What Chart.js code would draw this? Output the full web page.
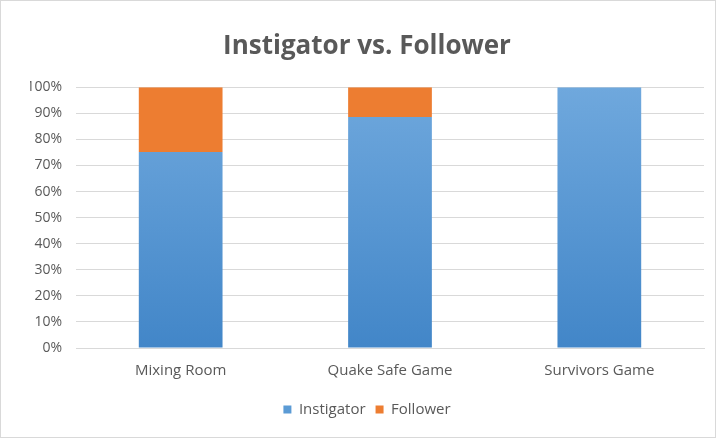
<!DOCTYPE html>
<html>
<head>
<meta charset="utf-8">
<script src="https://cdn.jsdelivr.net/npm/chart.js@4"></script>
<style>
  html, body { margin: 0; padding: 0; background: #fff; }
  #wrap { width: 714px; height: 436px; border: 1px solid #d9d9d9; }
</style>
</head>
<body>
<div id="wrap"><canvas id="myChart" width="714" height="436"></canvas></div>
<script>
const categorias = ['Mixing Room', 'Quake Safe Game', 'Survivors Game'];
const instigador = [75.2, 88.6, 100];
const seguidor = [24.8, 11.4, 0];
const ticksY = [0, 10, 20, 30, 40, 50, 60, 70, 80, 90, 100];

const gris = '#595959';

// degradado vertical para las barras azules
function degradado(ctx, arriba, abajo) {
    const chart = ctx.chart;
    const area = chart.chartArea;
    if (!area) return arriba;
    const g = chart.ctx.createLinearGradient(0, area.top, 0, area.bottom);
    g.addColorStop(0, arriba);
    g.addColorStop(1, abajo);
    return g;
}

// el naranja tiene su propio degradado dentro de cada barra
function degradadoNaranja(ctx) {
    const chart = ctx.chart;
    const area = chart.chartArea;
    if (!area || ctx.type !== 'data') return '#ed7d31';
    const meta = chart.getDatasetMeta(ctx.datasetIndex);
    const bar = meta.data[ctx.dataIndex];
    if (!bar) return '#ed7d31';
    const top = bar.y, bottom = bar.base;
    if (!isFinite(top) || !isFinite(bottom) || top === bottom) return '#ed7d31';
    const g = chart.ctx.createLinearGradient(0, top, 0, bottom);
    g.addColorStop(0, '#f08a52');
    g.addColorStop(0.5, '#f47d24');
    g.addColorStop(1, '#e46c1a');
    return g;
}

const ctx = document.getElementById('myChart').getContext('2d');
window.myChart = new Chart(ctx, {
    type: 'bar',
    data: {
        labels: categorias,
        datasets: [{
            label: 'Instigator',
            data: instigador,
            backgroundColor: (c) => degradado(c, '#6fa8dd', '#4286c8'),
            borderWidth: 0,
            barPercentage: 0.8,
            categoryPercentage: 0.5
        }, {
            label: 'Follower',
            data: seguidor,
            backgroundColor: degradadoNaranja,
            borderWidth: 0,
            barPercentage: 0.8,
            categoryPercentage: 0.5
        }]
    },
    options: {
        responsive: false,
        animation: false,
        // el titulo y la leyenda quedan algo corridos a la derecha
        layout: { padding: { left: 29, right: 11, top: 14, bottom: 10 } },
        plugins: {
            title: {
                display: true,
                text: 'Instigator vs. Follower',
                color: gris,
                font: { family: 'Open Sans', size: 26, weight: 'bold', lineHeight: 1.2 },
                padding: { top: 16, bottom: 25 }
            },
            legend: {
                position: 'bottom',
                labels: {
                    color: gris,
                    font: { family: 'Open Sans', size: 15 },
                    boxWidth: 8,
                    boxHeight: 8,
                    padding: 10,
                    generateLabels: (chart) => chart.data.datasets.map((d, i) => ({
                        text: d.label,
                        fillStyle: i === 0 ? '#5b9bd5' : '#ed7d31',
                        strokeStyle: 'transparent',
                        lineWidth: 0,
                        fontColor: gris,
                        datasetIndex: i
                    }))
                }
            },
            tooltip: { enabled: false }
        },
        scales: {
            x: {
                stacked: true,
                grid: { display: false },
                border: { color: '#d9d9d9' },
                ticks: { color: gris, font: { family: 'Open Sans', size: 15 }, padding: 6 },
                afterFit: (axis) => { axis.height = 44; }
            },
            y: {
                stacked: true,
                min: 0,
                max: 100,
                afterBuildTicks: (axis) => { axis.ticks = ticksY.map(v => ({ value: v })); },
                grid: { color: '#d9d9d9', drawTicks: false },
                border: { display: false },
                ticks: {
                    color: gris,
                    font: { family: 'Open Sans', size: 14 },
                    padding: 14,
                    callback: (v) => v + '%'
                },
                afterFit: (axis) => { axis.width = 46; }
            }
        }
    }
});
</script>
</body>
</html>
